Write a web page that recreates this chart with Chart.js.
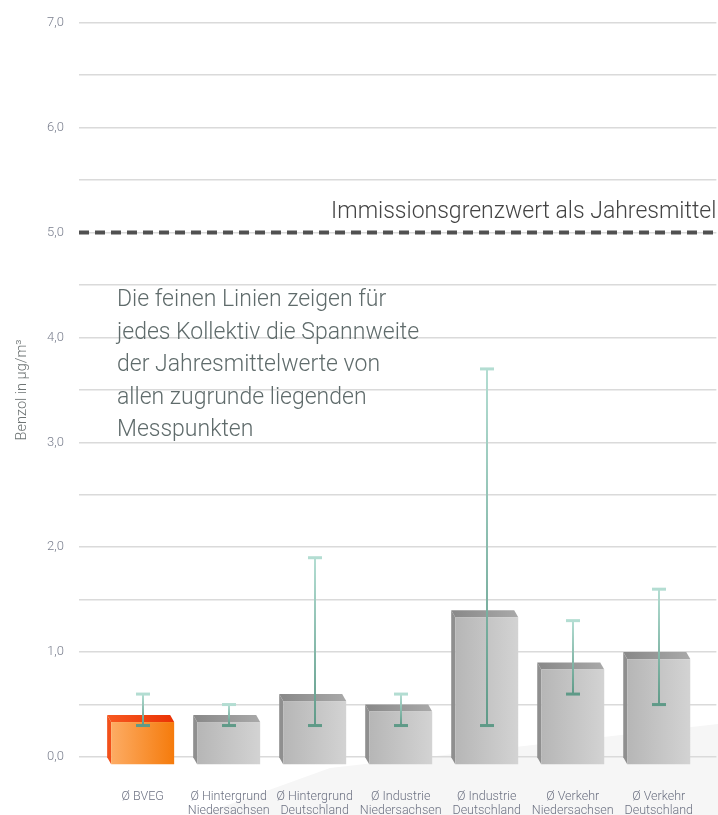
<!DOCTYPE html>
<html>
<head>
<meta charset="utf-8">
<script src="https://cdn.jsdelivr.net/npm/chart.js@4.4.1/dist/chart.umd.min.js"></script>
<style>
  html, body { margin: 0; padding: 0; background: #fff; }
</style>
</head>
<body>
<canvas id="benzol" width="718" height="815"></canvas>
<script>
// --- DATEN ---
const KATEGORIEN = [
    ['Ø BVEG'],
    ['Ø Hintergrund', 'Niedersachsen'],
    ['Ø Hintergrund', 'Deutschland'],
    ['Ø Industrie', 'Niedersachsen'],
    ['Ø Industrie', 'Deutschland'],
    ['Ø Verkehr', 'Niedersachsen'],
    ['Ø Verkehr', 'Deutschland']
];
const MITTELWERTE = [0.4, 0.4, 0.6, 0.5, 1.4, 0.9, 1.0];
const SPANNE_MIN = [0.3, 0.3, 0.3, 0.3, 0.3, 0.6, 0.5];
const SPANNE_MAX = [0.6, 0.5, 1.9, 0.6, 3.7, 1.3, 1.6];
const Y_BESCHRIFTUNG = [0, 1, 2, 3, 4, 5, 6, 7];
const GRENZWERT = 5.0;
const GRENZWERT_TEXT = 'Immissionsgrenzwert als Jahresmittel';
const HINWEIS = [
    'Die feinen Linien zeigen für',
    'jedes Kollektiv die Spannweite',
    'der Jahresmittelwerte von',
    'allen zugrunde liegenden',
    'Messpunkten'
];

const SCHRIFT = 'Roboto';
const TIEFE_X = 4;   // 3D-Versatz
const TIEFE_Y = 7;

// --- HINTERGRUND ---
const hintergrund = {
    id: 'hintergrund',
    beforeDraw(chart) {
        const ctx = chart.ctx;
        ctx.save();
        ctx.fillStyle = '#ffffff';
        ctx.fillRect(0, 0, chart.width, chart.height);
        ctx.fillStyle = '#f6f6f6';
        ctx.beginPath();
        ctx.moveTo(200, chart.height);
        ctx.lineTo(330, 768);
        ctx.lineTo(chart.width, 724);
        ctx.lineTo(chart.width, chart.height);
        ctx.closePath();
        ctx.fill();
        ctx.restore();
    }
};

// --- 3D-SÄULEN UND SPANNWEITEN ---
function farbverlauf(ctx, x0, x1, c0, c1) {
    const g = ctx.createLinearGradient(x0, 0, x1, 0);
    g.addColorStop(0, c0);
    g.addColorStop(1, c1);
    return g;
}

const quader = {
    id: 'quader',
    afterDatasetsDraw(chart) {
        const ctx = chart.ctx;
        const skalaY = chart.scales.y;
        const meta = chart.getDatasetMeta(0);

        ctx.save();
        meta.data.forEach((saeule, i) => {
            const { x, y, base, width } = saeule.getProps(['x', 'y', 'base', 'width'], true);
            const links = x - width / 2;
            const rechts = x + width / 2;
            const oben = y + TIEFE_Y;
            const unten = base + TIEFE_Y + 1;
            const orange = i === 0;

            // Seite links
            ctx.fillStyle = orange ? '#f2501a' : '#8f8f8f';
            ctx.beginPath();
            ctx.moveTo(links - TIEFE_X, oben - TIEFE_Y);
            ctx.lineTo(links, oben);
            ctx.lineTo(links, unten);
            ctx.lineTo(links - TIEFE_X, unten - TIEFE_Y);
            ctx.closePath();
            ctx.fill();

            // Deckel
            ctx.fillStyle = orange
                ? farbverlauf(ctx, links, rechts, '#f6561e', '#ea3204')
                : farbverlauf(ctx, links, rechts, '#8a8a8a', '#a9a9a9');
            ctx.beginPath();
            ctx.moveTo(links - TIEFE_X, oben - TIEFE_Y);
            ctx.lineTo(rechts - TIEFE_X, oben - TIEFE_Y);
            ctx.lineTo(rechts, oben);
            ctx.lineTo(links, oben);
            ctx.closePath();
            ctx.fill();

            // Front
            ctx.fillStyle = orange
                ? farbverlauf(ctx, links, rechts, '#fdac64', '#f57b0c')
                : farbverlauf(ctx, links, rechts, '#b6b6b6', '#d3d3d3');
            ctx.fillRect(links, oben, width, unten - oben);
        });

        // Spannweiten
        meta.data.forEach((saeule, i) => {
            const x = Math.round(saeule.x);
            const yMax = skalaY.getPixelForValue(SPANNE_MAX[i]);
            const yMin = skalaY.getPixelForValue(SPANNE_MIN[i]);
            const g = ctx.createLinearGradient(0, yMax, 0, yMin);
            g.addColorStop(0, '#b3ddd2');
            g.addColorStop(1, '#5f9a88');
            ctx.fillStyle = g;
            ctx.fillRect(x - 1, yMax, 2, yMin - yMax);
            ctx.fillStyle = '#b3ddd2';
            ctx.fillRect(x - 7, yMax - 1.5, 14, 3);
            ctx.fillStyle = '#5f9a88';
            ctx.fillRect(x - 7, yMin - 1.5, 14, 3);
        });
        ctx.restore();
    }
};

// --- GRENZWERT UND HINWEIS ---
const beschriftung = {
    id: 'beschriftung',
    afterDraw(chart) {
        const ctx = chart.ctx;
        const { left, right } = chart.chartArea;
        const yGrenz = chart.scales.y.getPixelForValue(GRENZWERT);

        ctx.save();
        ctx.strokeStyle = '#505050';
        ctx.lineWidth = 4;
        ctx.setLineDash([10, 6]);
        ctx.beginPath();
        ctx.moveTo(left, yGrenz);
        ctx.lineTo(right, yGrenz);
        ctx.stroke();

        ctx.fillStyle = '#444444';
        ctx.font = `300 23px ${SCHRIFT}`;
        ctx.textAlign = 'right';
        ctx.textBaseline = 'alphabetic';
        ctx.fillText(GRENZWERT_TEXT, right, yGrenz - 15);

        ctx.fillStyle = '#5f6b6b';
        ctx.font = `300 23px ${SCHRIFT}`;
        ctx.textAlign = 'left';
        HINWEIS.forEach((zeile, i) => {
            ctx.fillText(zeile, left + 38, 306 + i * 32.5);
        });
        ctx.restore();
    }
};

// --- DIAGRAMM ---
new Chart(document.getElementById('benzol').getContext('2d'), {
    type: 'bar',
    data: {
        datasets: [{
            label: 'Benzol',
            data: MITTELWERTE.map((wert, i) => ({ x: i, y: wert })),
            backgroundColor: 'rgba(0, 0, 0, 0)',
            barThickness: 63
        }]
    },
    options: {
        responsive: false,
        animation: false,
        layout: { padding: { top: 19, left: 0, right: 0, bottom: 0 } },
        plugins: {
            legend: { display: false },
            tooltip: { enabled: false }
        },
        scales: {
            x: {
                type: 'linear',
                offset: false,
                min: -0.74,
                max: 6.67,
                afterBuildTicks: skala => {
                    skala.ticks = KATEGORIEN.map((_, i) => ({ value: i }));
                },
                afterFit: skala => { skala.height = 58; },
                grid: { display: false, offset: false },
                border: { display: false },
                ticks: {
                    autoSkip: false,
                    maxRotation: 0,
                    padding: 25,
                    color: '#6d7283',
                    font: { family: SCHRIFT, size: 12.5, weight: 300, lineHeight: 1.12 },
                    callback: wert => KATEGORIEN[wert]
                }
            },
            y: {
                min: 0,
                max: 7,
                afterFit: skala => { skala.width = 79; },
                afterBuildTicks: skala => {
                    const ticks = [];
                    for (let v = 0; v <= 7; v += 0.5) ticks.push({ value: v });
                    skala.ticks = ticks;
                },
                grid: { color: '#dadada', lineWidth: 1.5, drawTicks: false },
                border: { display: false },
                ticks: {
                    padding: 15,
                    color: '#7a7f8e',
                    font: { family: SCHRIFT, size: 13, weight: 300 },
                    callback: wert => Y_BESCHRIFTUNG.includes(wert) ? wert.toFixed(1).replace('.', ',') : ''
                },
                title: {
                    display: true,
                    text: 'Benzol in µg/m³',
                    color: '#6e7474',
                    padding: { top: 14, bottom: 0 },
                    font: { family: SCHRIFT, size: 14.5, weight: 300 }
                }
            }
        }
    },
    plugins: [hintergrund, quader, beschriftung]
});
</script>
</body>
</html>
